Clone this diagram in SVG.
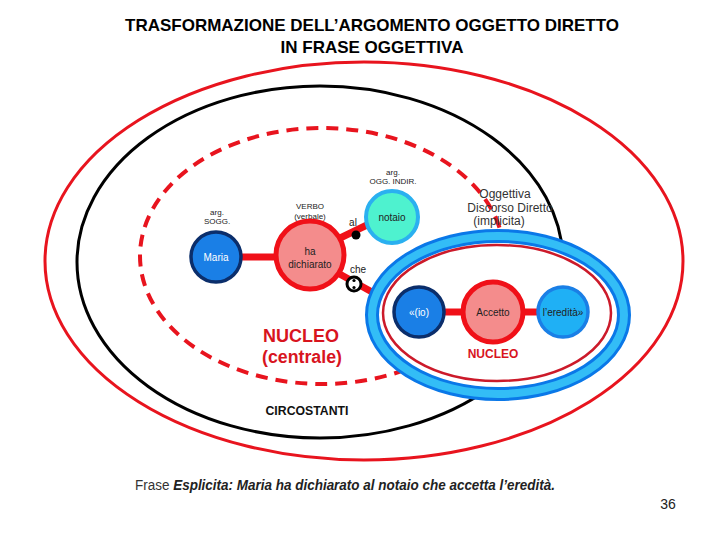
<svg xmlns="http://www.w3.org/2000/svg" width="720" height="540" viewBox="0 0 720 540">
<style>
text{font-family:"Liberation Sans",Arial,sans-serif}
.title{font-size:17px;font-weight:bold;fill:#000;text-anchor:middle}
.small{font-size:8px;fill:#222;text-anchor:middle}
.lbl{font-size:10px;fill:#222;text-anchor:middle}
.wlbl{font-size:10px;fill:#fff;text-anchor:middle}
.bar{stroke:#f01018;stroke-width:7;fill:none}
.red{fill:#f48c8c;stroke:#f01018;stroke-width:5}
.dblue{fill:#1a7fe6;stroke:#0b2e6b;stroke-width:3.5}
.lblue{fill:#1fb0f5;stroke:#1a7fe6;stroke-width:3.5}
.over{font-size:12px;fill:#333;text-anchor:middle}
.nuc{font-weight:bold;fill:#d8141e;text-anchor:middle}
</style>
<g id="title">
<text class="title" x="372" y="31">TRASFORMAZIONE DELL’ARGOMENTO OGGETTO DIRETTO</text>
<text class="title" x="372" y="53">IN FRASE OGGETTIVA</text>
</g>
<g id="frames">
<ellipse cx="364" cy="261" rx="319" ry="199" fill="none" stroke="#e8141e" stroke-width="3"/>
<ellipse cx="320" cy="262" rx="243" ry="176" fill="none" stroke="#000" stroke-width="3"/>
<ellipse cx="322" cy="256" rx="182" ry="128" fill="none" stroke="#e8141e" stroke-width="4" stroke-dasharray="12 8"/>
</g>
<g id="connectors">
<line class="bar" x1="240" y1="257" x2="276" y2="257"/>
<line class="bar" x1="336" y1="240" x2="367" y2="225"/>
<line class="bar" x1="336" y1="272" x2="372" y2="292"/>
<circle cx="356" cy="235" r="4.5" fill="#000"/>
<text class="lbl" x="353" y="226">al</text>
<text class="lbl" x="358" y="273">che</text>
</g>
<g id="n-colon">
<circle cx="354" cy="284" r="7" fill="#fff" stroke="#000" stroke-width="3"/>
<circle cx="354" cy="280.5" r="1.6" fill="#000"/>
<circle cx="354" cy="287.5" r="1.6" fill="#000"/>
</g>
<g id="n-maria">
<text class="small" x="217" y="215">arg.</text>
<text class="small" x="217" y="224">SOGG.</text>
<circle class="dblue" cx="216" cy="257" r="25"/>
<text class="wlbl" x="216" y="261">Maria</text>
</g>
<g id="n-verbo">
<text class="small" x="310" y="209">VERBO</text>
<text class="small" x="310" y="219">(verbale)</text>
<circle class="red" cx="310" cy="255" r="34"/>
<text class="lbl" x="310" y="255">ha</text>
<text class="lbl" x="310" y="268">dichiarato</text>
</g>
<g id="n-notaio">
<text class="small" x="393" y="175">arg.</text>
<text class="small" x="393" y="184">OGG. INDIR.</text>
<circle cx="392" cy="217" r="26" fill="#4ef2cf" stroke="#2ab0f0" stroke-width="4"/>
<text class="lbl" x="392" y="221">notaio</text>
</g>
<g id="n-oggettiva">
<ellipse cx="498" cy="315" rx="126" ry="79" fill="#fff" stroke="#0a78e8" stroke-width="14"/>
<ellipse cx="498" cy="315" rx="126" ry="79" fill="none" stroke="#33bdf6" stroke-width="8"/>
<ellipse cx="497" cy="313" rx="114" ry="68" fill="none" stroke="#cc1a2a" stroke-width="2.5"/>
<line class="bar" x1="444" y1="312" x2="464" y2="312" stroke-width="6"/>
<line class="bar" x1="522" y1="312" x2="540" y2="312" stroke-width="6"/>
<text class="over" x="505" y="198">Oggettiva</text>
<text class="over" x="510" y="212">Discorso Diretto</text>
<text class="over" x="499" y="225">(implicita)</text>
</g>
<g id="n-io">
<circle class="dblue" cx="419" cy="312" r="25"/>
<text class="wlbl" x="419" y="316">«(io)</text>
</g>
<g id="n-accetto">
<circle class="red" cx="493" cy="312" r="30"/>
<text class="lbl" x="493" y="316">Accetto</text>
</g>
<g id="n-eredita">
<circle class="lblue" cx="563" cy="312" r="25"/>
<text class="lbl" x="563" y="316">l’eredità»</text>
</g>
<g id="labels">
<text class="nuc" x="493" y="358" font-size="12">NUCLEO</text>
<text class="nuc" x="301" y="342" font-size="18">NUCLEO</text>
<text class="nuc" x="302" y="363" font-size="18" textLength="80" lengthAdjust="spacingAndGlyphs">(centrale)</text>
<text x="307" y="415" font-size="12" font-weight="bold" fill="#111" text-anchor="middle" textLength="83" lengthAdjust="spacingAndGlyphs">CIRCOSTANTI</text>
<text x="135" y="490" font-size="14" fill="#333" textLength="420" lengthAdjust="spacingAndGlyphs">Frase <tspan font-weight="bold" font-style="italic" fill="#222">Esplicita: Maria ha dichiarato al notaio che accetta l’eredità.</tspan></text>
<text x="668" y="509" font-size="14" fill="#222" text-anchor="middle">36</text>
</g>
</svg>
